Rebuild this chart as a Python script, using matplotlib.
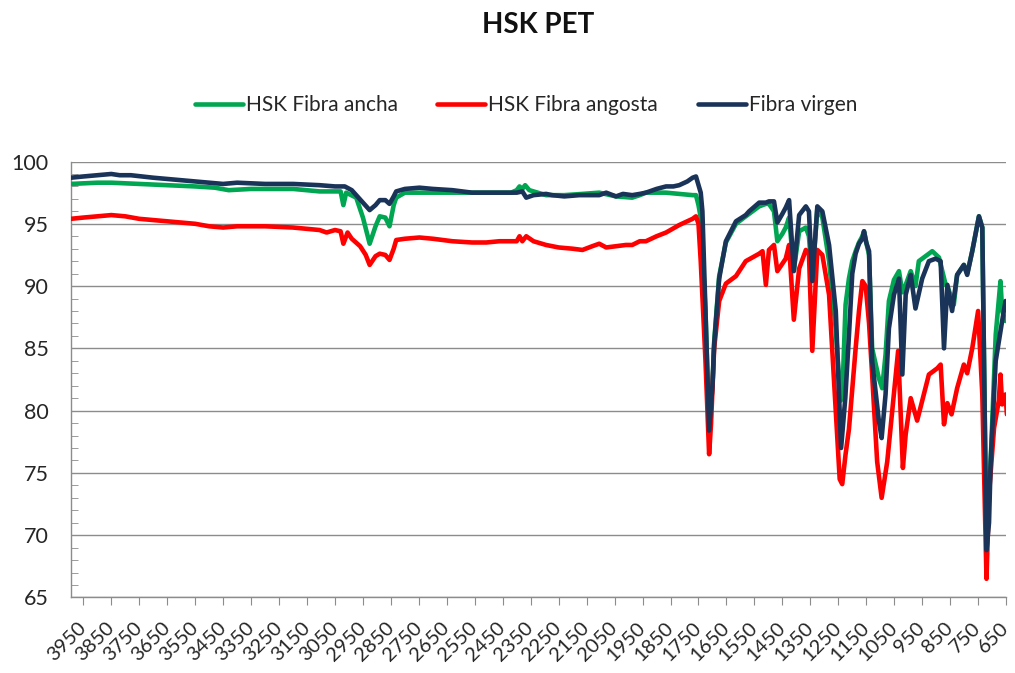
import matplotlib
matplotlib.use("Agg")
import matplotlib.pyplot as plt
from matplotlib.ticker import MultipleLocator

plt.rcParams["font.family"] = ["Lato", "DejaVu Sans"]

# FTIR transmittance (%) read per sample, wavenumber in cm-1 (descending)
wn_ancha = [3995, 3900, 3850, 3750, 3650, 3550, 3480, 3430, 3350, 3200, 3105, 3030, 3020, 3010,
            2974, 2950, 2926, 2905, 2890, 2870, 2855, 2840, 2831, 2800, 2700, 2630, 2509, 2420,
            2400, 2390, 2380, 2370, 2355, 2340, 2295, 2230, 2165, 2105, 2045, 1987, 1960, 1938,
            1866, 1819, 1771, 1759, 1750, 1742, 1725, 1712, 1700, 1694, 1676, 1652, 1616, 1581,
            1569, 1533, 1509, 1498, 1480, 1468, 1450, 1438, 1426, 1409, 1390, 1366, 1355, 1343,
            1325, 1307, 1283, 1259, 1242, 1236, 1224, 1212, 1200, 1188, 1176, 1164, 1158, 1150,
            1140, 1129, 1105, 1093, 1081, 1069, 1051, 1033, 1021, 1009, 991, 974, 962, 914, 890,
            866, 860, 837, 825, 801, 789, 771, 747, 735, 720, 705, 687, 670, 664, 652, 650]
t_ancha = [98.2, 98.3, 98.3, 98.2, 98.1, 98.0, 97.9, 97.7, 97.8, 97.8, 97.6, 97.6, 96.5, 97.5,
           97.1, 95.5, 93.4, 94.8, 95.6, 95.5, 94.8, 96.5, 97.1, 97.5, 97.5, 97.5, 97.5, 97.5,
           97.7, 98.0, 97.8, 98.1, 97.7, 97.6, 97.3, 97.3, 97.4, 97.5, 97.2, 97.1, 97.3, 97.5,
           97.5, 97.4, 97.3, 97.3, 96.5, 95.5, 88.0, 78.6, 82.0, 85.5, 90.8, 93.5, 95.0, 95.6,
           95.8, 96.4, 96.6, 96.6, 96.0, 93.6, 94.2, 94.7, 95.5, 91.3, 94.4, 94.7, 94.0, 90.5,
           96.2, 95.5, 92.0, 86.5, 80.8, 81.0, 88.5, 90.6, 92.0, 92.8, 93.5, 94.0, 94.4, 93.5,
           92.5, 85.0, 82.6, 81.8, 84.5, 88.8, 90.5, 91.2, 89.5, 90.1, 91.2, 90.0, 92.0, 92.8, 92.3,
           90.1, 90.0, 88.5, 90.9, 91.7, 91.0, 92.8, 95.6, 94.7, 68.7, 76.0, 86.1, 90.4, 88.0, 87.2, 87.5]

wn_angosta = [3995, 3950, 3900, 3850, 3800, 3750, 3700, 3650, 3600, 3550, 3500, 3450, 3400, 3300,
              3200, 3105, 3080, 3050, 3030, 3020, 3005, 2990, 2960, 2940, 2926, 2905, 2890, 2870,
              2855, 2840, 2831, 2800, 2748, 2700, 2630, 2560, 2509, 2462, 2400, 2390, 2380, 2366,
              2340, 2295, 2250, 2200, 2165, 2130, 2105, 2080, 2045, 2010, 1987, 1960, 1938, 1900,
              1866, 1819, 1790, 1771, 1759, 1750, 1742, 1725, 1712, 1705, 1694, 1676, 1652, 1616,
              1581, 1533, 1521, 1509, 1498, 1480, 1468, 1438, 1426, 1409, 1390, 1366, 1355, 1343,
              1325, 1307, 1283, 1259, 1245, 1236, 1224, 1212, 1188, 1176, 1164, 1152, 1140, 1129,
              1111, 1095, 1075, 1057, 1036, 1019, 1009, 991, 968, 950, 926, 896, 884, 872, 860, 845,
              825, 801, 789, 771, 750, 735, 720, 711, 693, 676, 670, 664, 652, 647]
t_angosta = [95.4, 95.5, 95.6, 95.7, 95.6, 95.4, 95.3, 95.2, 95.1, 95.0, 94.8, 94.7, 94.8, 94.8,
             94.7, 94.5, 94.3, 94.5, 94.4, 93.4, 94.3, 93.8, 93.2, 92.5, 91.7, 92.4, 92.6, 92.5,
             92.1, 93.0, 93.7, 93.8, 93.9, 93.8, 93.6, 93.5, 93.5, 93.6, 93.6, 94.0, 93.6, 94.0,
             93.6, 93.3, 93.1, 93.0, 92.9, 93.2, 93.4, 93.1, 93.2, 93.3, 93.3, 93.6, 93.6, 94.0,
             94.3, 94.9, 95.2, 95.4, 95.6, 95.0, 92.0, 84.0, 76.5, 79.0, 85.0, 88.8, 90.2, 90.8,
             92.0, 92.6, 92.8, 90.1, 92.9, 93.3, 91.2, 92.2, 93.3, 87.3, 91.4, 92.9, 92.6, 84.8,
             92.9, 92.5, 89.3, 80.0, 74.5, 74.1, 76.5, 78.5, 85.0, 88.0, 90.4, 90.0, 87.0, 82.9,
             75.9, 73.0, 75.9, 80.0, 84.8, 75.4, 78.1, 81.0, 79.2, 80.8, 82.9, 83.4, 83.7, 78.9, 80.6, 79.7,
             81.8, 83.7, 83.0, 85.0, 88.0, 81.3, 66.5, 73.3, 78.6, 80.8, 82.9, 80.5, 81.3, 79.7]

wn_virgen = [3995, 3950, 3900, 3850, 3820, 3780, 3700, 3650, 3600, 3550, 3500, 3450, 3400, 3300,
             3200, 3105, 3050, 3015, 2990, 2974, 2950, 2926, 2905, 2890, 2870, 2855, 2840, 2831,
             2800, 2748, 2700, 2630, 2560, 2509, 2450, 2400, 2380, 2366, 2340, 2295, 2273, 2230,
             2176, 2105, 2080, 2045, 2020, 1987, 1960, 1938, 1900, 1866, 1840, 1819, 1790, 1771,
             1759, 1742, 1736, 1725, 1712, 1700, 1694, 1676, 1652, 1616, 1581, 1569, 1533, 1509,
             1498, 1480, 1468, 1450, 1438, 1426, 1409, 1390, 1366, 1355, 1343, 1325, 1307, 1283,
             1259, 1240, 1225, 1212, 1200, 1188, 1176, 1164, 1158, 1150, 1140, 1129, 1105, 1095,
             1081, 1069, 1051, 1033, 1021, 1009, 991, 974, 950, 926, 902, 884, 872, 860, 843, 825,
             801, 789, 771, 747, 735, 720, 711, 705, 687, 664, 652, 650]
t_virgen = [98.7, 98.8, 98.9, 99.0, 98.9, 98.9, 98.7, 98.6, 98.5, 98.4, 98.3, 98.2, 98.3, 98.2,
            98.2, 98.1, 98.0, 98.0, 97.7, 97.3, 96.7, 96.1, 96.5, 96.9, 96.9, 96.6, 97.2, 97.6,
            97.8, 97.9, 97.8, 97.7, 97.5, 97.5, 97.5, 97.5, 97.6, 97.1, 97.3, 97.4, 97.3, 97.2,
            97.3, 97.3, 97.5, 97.2, 97.4, 97.3, 97.4, 97.5, 97.8, 98.0, 98.0, 98.1, 98.4, 98.7,
            98.8, 97.5, 96.0, 88.0, 78.4, 82.0, 85.3, 90.6, 93.6, 95.2, 95.7, 96.0, 96.7, 96.7,
            96.8, 96.8, 95.1, 95.8, 96.3, 96.9, 91.2, 95.7, 96.4, 96.0, 90.4, 96.4, 96.0, 93.3,
            88.0, 77.0, 81.0, 86.0, 91.0, 92.6, 93.4, 93.8, 94.4, 93.5, 92.8, 84.0, 79.2, 77.8,
            81.3, 86.6, 89.3, 90.6, 82.9, 89.3, 90.9, 88.2, 90.6, 92.0, 92.2, 92.0, 85.0, 90.1, 88.0, 90.9,
            91.7, 90.9, 92.8, 95.6, 94.7, 68.8, 71.0, 75.9, 84.0, 87.2, 88.8, 88.5]

series = [
    ("HSK Fibra ancha", wn_ancha, t_ancha, "#00A651"),
    ("HSK Fibra angosta", wn_angosta, t_angosta, "#FF0000"),
    ("Fibra virgen", wn_virgen, t_virgen, "#1A3358"),
]

tick_wn = list(range(3950, 649, -100))
GRID = "#8C8C8C"

fig = plt.figure(figsize=(10.15, 6.73), dpi=100)
ax = fig.add_axes([0.0697, 0.1122, 0.9215, 0.6478])

handles = []
for label, wn, t, color in series:
    (ln,) = ax.plot(wn, t, color=color, lw=3.3, label=label,
                    solid_joinstyle="round", solid_capstyle="round", zorder=3)
    handles.append(ln)

ax.set_xlim(3995, 650)
ax.set_ylim(65, 100)
ax.set_xticks(tick_wn)
ax.set_xticklabels([str(v) for v in tick_wn], rotation=45, ha="right", va="center",
                   rotation_mode="anchor", fontsize=14.5)
ax.set_yticks(range(65, 101, 5))
ax.yaxis.set_minor_locator(MultipleLocator(1))
ax.tick_params(axis="y", which="major", length=0, pad=16, labelsize=15.5, labelcolor="#262626")
ax.tick_params(axis="y", which="minor", direction="in", length=5, color=GRID)
ax.tick_params(axis="x", which="major", direction="out", length=6, color=GRID, pad=14,
               labelcolor="#262626")

ax.grid(axis="y", color=GRID, lw=1.0, zorder=1)
ax.set_axisbelow(True)
for side in ("top", "right"):
    ax.spines[side].set_visible(False)
for side in ("left", "bottom"):
    ax.spines[side].set_color(GRID)
    ax.spines[side].set_linewidth(1.0)

fig.text(538 / 1015, 1 - 25 / 673, "HSK PET", ha="center", va="center",
         fontsize=20, fontweight="bold", color="#111111")
fig.legend(handles=handles, loc="center", bbox_to_anchor=(526 / 1015, 1 - 105 / 673),
           ncol=3, frameon=False, fontsize=15, handlelength=2.3, handletextpad=0.15,
           columnspacing=1.9, labelcolor="#262626")

fig.savefig("out.png", dpi=100)
